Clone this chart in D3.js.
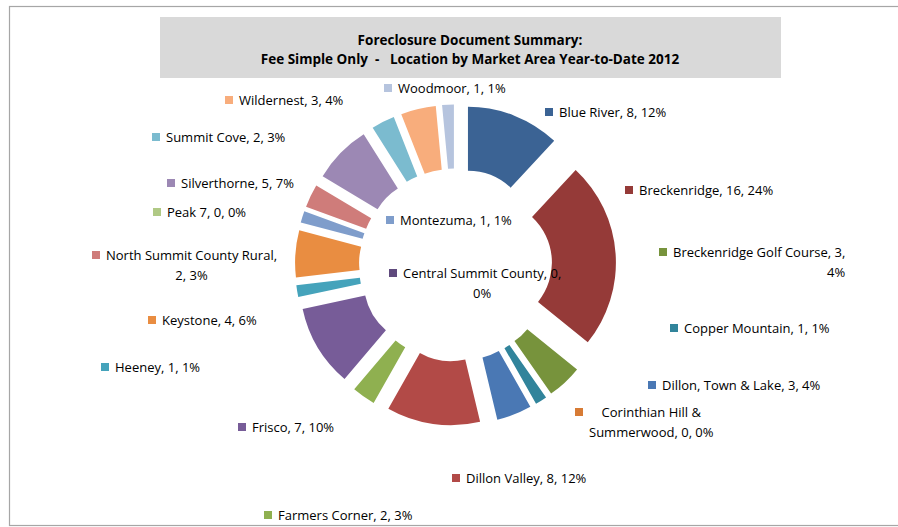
<!DOCTYPE html>
<html>
<head>
<meta charset="utf-8">
<script src="https://cdn.jsdelivr.net/npm/d3@7"></script>
<style>
  body { margin:0; background:#fff; }
  svg text { font-family: "Open Sans", Lato, sans-serif; fill:#000; white-space:pre; }
</style>
</head>
<body>
<script>
// market areas, in the order Excel drew them (clockwise from 12 o'clock)
var areas = ['Blue River','Breckenridge','Breckenridge Golf Course','Central Summit County',
  'Copper Mountain','Corinthian Hill & Summerwood','Dillon, Town & Lake','Dillon Valley',
  'Farmers Corner','Frisco','Heeney','Keystone','Montezuma','North Summit County Rural',
  'Peak 7','Silverthorne','Summit Cove','Wildernest','Woodmoor'];
var counts = [8,16,3,0,1,0,3,8,2,7,1,4,1,2,0,5,2,3,1];
var colors = ['#3b6394','#953a38','#77933c','#5f4a7d','#31849b','#d77b35','#4a78b4','#b24a47',
  '#8fb050','#775c98','#45a3bb','#e98d41','#7f9dcb','#cf7c7a','#b0c985','#9c88b4',
  '#7bbbcf','#f8ad7c','#b6c4de'];
var titleLines = ['Foreclosure Document Summary:','Fee Simple Only  -   Location by Market Area Year-to-Date 2012'];

// where Excel parked each data label (left of key, middle of first line); brk = words on line 1
var labelLayout = [
  {x:545,y:112},{x:625,y:190},{x:659,y:252,brk:4,align:'end'},{x:389,y:273,brk:4},
  {x:670,y:328},{x:575,y:412,brk:3},{x:648,y:385},{x:452,y:478},
  {x:264,y:515},{x:238,y:427},{x:101,y:367},{x:148,y:320},
  {x:386,y:220},{x:92,y:255,brk:4},{x:153,y:212},{x:167,y:183},
  {x:152,y:137},{x:225,y:100},{x:384,y:88}
];

var W = 898, H = 527;
var svg = d3.select('body').append('svg').attr('width',W).attr('height',H);

// chart frame
svg.append('rect').attr('x',9.5).attr('y',6.5).attr('width',W+10).attr('height',519)
  .attr('fill','#fff').attr('stroke','#a6a6a6').attr('stroke-width',1.2);

// title box
svg.append('rect').attr('x',160).attr('y',17).attr('width',621).attr('height',61).attr('fill','#d9d9d9');
svg.selectAll('.title').data(titleLines).enter().append('text')
  .attr('class','title')
  .attr('x',470).attr('y',function(d,i){return 45+i*19})
  .attr('text-anchor','middle').style('font-weight','bold').style('font-size','13.5px')
  .text(function(d){return d});

var data = areas.map(function(a,i){return {name:a,value:counts[i],color:colors[i],lab:labelLayout[i]}});
var total = d3.sum(counts);

var cx = 455.5, cy = 265, R = 126.5, r = 62.5, explode = 34;
var pie = d3.pie().sort(null).value(function(d){return d.value});
var arc = d3.arc().innerRadius(r).outerRadius(R);

var g = svg.append('g').attr('transform','translate('+cx+','+cy+')');
g.selectAll('path').data(pie(data).filter(function(d){return d.data.value>0}))
  .enter().append('path')
  .attr('d',arc)
  .attr('fill',function(d){return d.data.color})
  .attr('transform',function(d){
    var a = (d.startAngle+d.endAngle)/2;
    return 'translate('+(explode*Math.sin(a))+','+(-explode*Math.cos(a))+')';
  });

// data labels: key swatch + "name, value, pct%"
var labels = svg.selectAll('.lab').data(data).enter().append('g').attr('class','lab')
  .attr('transform',function(d){return 'translate('+d.lab.x+','+d.lab.y+')'});
labels.append('rect').attr('x',0).attr('y',-4).attr('width',8).attr('height',8)
  .attr('fill',function(d){return d.color});
labels.each(function(d){
  var txt = d.name+', '+d.value+', '+Math.round(d.value/total*100)+'%';
  var el = d3.select(this);
  if (!d.lab.brk){
    el.append('text').attr('x',14).attr('y',4.5).style('font-size','13px').text(txt);
    return;
  }
  var words = txt.split(' ');
  var lines = [words.slice(0,d.lab.brk).join(' '), words.slice(d.lab.brk).join(' ')];
  var t = el.selectAll('text').data(lines).enter().append('text')
    .attr('y',function(l,i){return 4.5+i*20}).style('font-size','13px').text(function(l){return l});
  // lines are centred across the widest one (or pushed to its right end)
  var widths = [];
  t.each(function(){widths.push(this.getComputedTextLength())});
  var wmax = d3.max(widths), k = d.lab.align=='end' ? 1 : 0.5;
  t.attr('x',function(l,i){return 14+(wmax-widths[i])*k});
});
</script>
</body>
</html>
